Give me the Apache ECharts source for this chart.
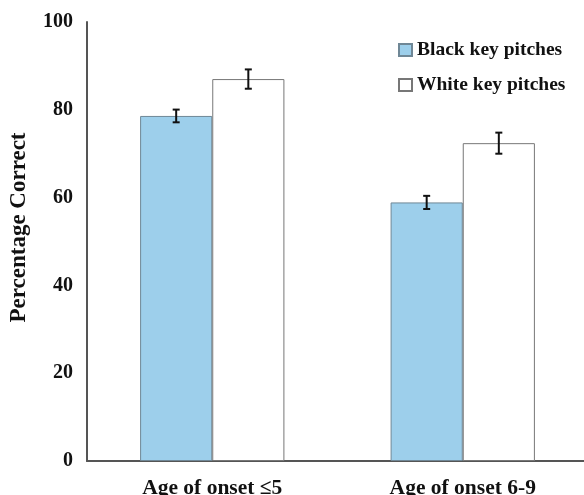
<!DOCTYPE html>
<html>
<head>
<meta charset="utf-8">
<script src="https://cdn.jsdelivr.net/npm/echarts@6/dist/echarts.min.js"></script>
<style>html,body{margin:0;padding:0;background:#fff}#c{width:584px;height:495px}</style>
</head>
<body>
<div id="c"></div>
<script>
const categories = ['Age of onset \u22645', 'Age of onset 6-9'];
const blackKey = [78.6, 58.9];
const blackErr = [1.45, 1.5];
const whiteKey = [87.0, 72.4];
const whiteErr = [2.2, 2.4];
const yTicks = [0, 20, 40, 60, 80, 100];

const FONT = '"Liberation Serif", "Times New Roman", serif';
const BAR_FRAC = 0.288;

function errSeries(vals, errs, side) {
  const data = vals.map((v, i) => [i, v, errs[i]]);
  return {
    type: 'custom',
    silent: true,
    z: 10,
    data: data,
    renderItem: function (params, api) {
      const i = api.value(0), v = api.value(1), e = api.value(2);
      const catW = api.size([1, 0])[0];
      const off = side * catW * BAR_FRAC / 2;
      const top = api.coord([i, v + e]);
      const bot = api.coord([i, v - e]);
      const x = top[0] + off;
      const cap = 3.5;
      const st = { stroke: '#111', lineWidth: 2 };
      return {
        type: 'group',
        children: [
          { type: 'line', shape: { x1: x, y1: top[1], x2: x, y2: bot[1] }, style: st },
          { type: 'line', shape: { x1: x - cap, y1: top[1], x2: x + cap, y2: top[1] }, style: st },
          { type: 'line', shape: { x1: x - cap, y1: bot[1], x2: x + cap, y2: bot[1] }, style: st }
        ]
      };
    }
  };
}

const chart = echarts.init(document.getElementById('c'), null, { renderer: 'canvas' });
chart.setOption({
  animation: false,
  backgroundColor: '#fff',
  grid: { left: 87, right: -4, top: 22, bottom: 34, containLabel: false, outerBoundsMode: 'none' },
  legend: {
    orient: 'vertical',
    left: 393,
    top: 35,
    itemWidth: 13,
    itemHeight: 12,
    itemGap: 15,
    icon: 'rect',
    textStyle: { fontFamily: FONT, fontWeight: 'bold', fontSize: 19.5, color: '#111', padding: [0, 0, 0, 0] },
    data: ['Black key pitches', 'White key pitches']
  },
  xAxis: {
    type: 'category',
    data: categories,
    axisLine: { lineStyle: { color: '#555', width: 2 } },
    axisTick: { show: false },
    axisLabel: { margin: 16, fontFamily: FONT, fontWeight: 'bold', fontSize: 21.5, color: '#111' }
  },
  yAxis: {
    type: 'value',
    min: 0, max: 100, interval: 20,
    name: 'Percentage Correct',
    nameLocation: 'middle',
    nameGap: 56,
    nameRotate: 90,
    nameTextStyle: { fontFamily: FONT, fontWeight: 'bold', fontSize: 23, color: '#111', padding: [0, 0, 0, 28] },
    axisLine: { show: true, lineStyle: { color: '#555', width: 2 } },
    axisTick: { show: false },
    splitLine: { show: false },
    axisLabel: { margin: 14, fontFamily: FONT, fontWeight: 'bold', fontSize: 20, color: '#111',
      formatter: v => yTicks.includes(v) ? String(v) : '' }
  },
  series: [
    {
      name: 'Black key pitches', type: 'bar', data: blackKey,
      barWidth: (BAR_FRAC * 100) + '%', barGap: '0%',
      itemStyle: { color: '#9dcfeb', borderColor: '#6f8796', borderWidth: 1 }
    },
    {
      name: 'White key pitches', type: 'bar', data: whiteKey,
      barWidth: (BAR_FRAC * 100) + '%', barGap: '0%',
      itemStyle: { color: '#ffffff', borderColor: '#777', borderWidth: 1 }
    },
    errSeries(blackKey, blackErr, -1),
    errSeries(whiteKey, whiteErr, 1)
  ]
});
</script>
</body>
</html>
